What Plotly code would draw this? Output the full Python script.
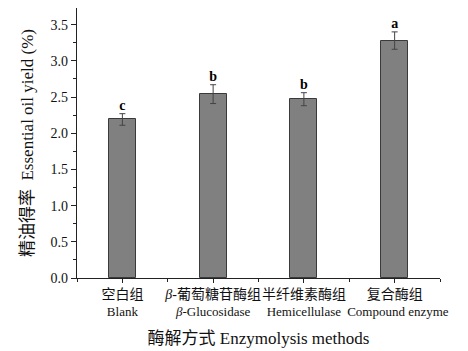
import plotly.graph_objects as go

cat_cn = ["空白组", "<i>β</i>-葡萄糖苷酶组", "半纤维素酶组", "复合酶组"]
cat_en = ["Blank", "<i>β</i>-Glucosidase", "Hemicellulase", "\u00a0\u00a0Compound enzyme"]
yield_mean = [2.19, 2.54, 2.47, 3.28]
yield_err = [0.08, 0.13, 0.09, 0.12]
sig_letters = ["c", "b", "b", "a"]
y_ticks = [0.0, 0.5, 1.0, 1.5, 2.0, 2.5, 3.0, 3.5]

categories = [f'<span style="font-size:14px">{c}</span><br>{e}' for c, e in zip(cat_cn, cat_en)]
xpos = list(range(len(categories)))
serif = "Liberation Serif, Noto Sans CJK SC, serif"

fig = go.Figure()
fig.add_trace(go.Bar(
    x=xpos, y=yield_mean, width=0.3,
    marker=dict(color="#808080", line=dict(color="#3a3a3a", width=1)),
    error_y=dict(type="data", array=yield_err, visible=True,
                 color="#444444", thickness=1, width=3),
    showlegend=False,
))
fig.add_trace(go.Scatter(
    x=xpos, y=[m + e for m, e in zip(yield_mean, yield_err)],
    mode="text", text=[f"<b>{s}</b>" for s in sig_letters], textposition="top center",
    textfont=dict(family=serif, size=14, color="black"),
    showlegend=False, cliponaxis=False,
))

fig.update_layout(
    width=460, height=343,
    margin=dict(l=69, r=28, t=0, b=73),
    plot_bgcolor="white", paper_bgcolor="white",
    bargap=0,
)
fig.update_xaxes(
    range=[-0.5, 3.5], tickmode="array", tickvals=xpos, ticktext=categories,
    tickangle=0, automargin=False,
    showline=True, linecolor="#222", linewidth=1.2, showgrid=False,
    ticks="outside", ticklen=4, tickcolor="#222",
    minor=dict(tick0=0.5, dtick=1, ticks="outside", ticklen=3, tickcolor="#222"),
    tickfont=dict(family=serif, size=13, color="#111"),
    title=dict(text="酶解方式 Enzymolysis methods", standoff=14,
               font=dict(family=serif, size=17, color="#111")),
    zeroline=False,
)
fig.update_yaxes(
    range=[0, 3.73], tickmode="array", tickvals=y_ticks,
    ticktext=[f"{v:.1f}" for v in y_ticks], automargin=False,
    showline=True, linecolor="#222", linewidth=1.2, showgrid=False,
    ticks="outside", ticklen=5, tickcolor="#222",
    minor=dict(dtick=0.25, ticks="outside", ticklen=3, tickcolor="#222"),
    tickfont=dict(family=serif, size=14, color="#111"),
    title=dict(text="精油得率  Essential oil yield (%)", standoff=12,
               font=dict(family=serif, size=17, color="#111")),
    zeroline=False,
)

fig.write_html("out.html")
